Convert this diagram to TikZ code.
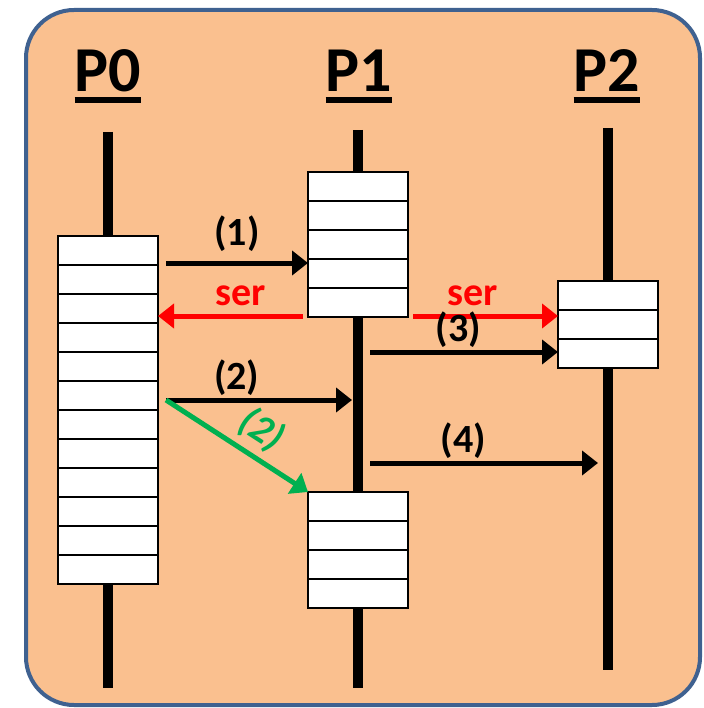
\documentclass[tikz,border=0pt]{standalone}
\usepackage{fontspec}
\setmainfont{Carlito}
\usetikzlibrary{arrows.meta}

\definecolor{bgorange}{HTML}{FAC08F}
\definecolor{frameblue}{HTML}{3F6190}
\definecolor{sendgreen}{HTML}{00B050}

\begin{document}
\begin{tikzpicture}[
  x=1pt, y=-1pt,
  title/.style={font=\fontsize{64}{64}\selectfont\bfseries, anchor=base, inner sep=0pt},
  life/.style={line width=9.5pt},
  stack/.style={draw, line width=2pt, fill=white, minimum width=100pt, inner sep=0pt, outer sep=0pt, anchor=north},
  msg/.style={line width=5pt, -{Triangle[length=16pt,width=24pt]}},
  lbl/.style={font=\fontsize{40}{40}\selectfont\bfseries, anchor=base, inner sep=0pt, yshift=11pt}
]
\useasboundingbox (0,0) rectangle (703,708);
\draw[frameblue, line width=4pt, fill=bgorange, rounded corners=48pt] (26,10) rectangle (700,705);

% process titles
\node[title] (t0) at (108,92) {P0};
\node[title] (t1) at (359,92) {P1};
\node[title] (t2) at (607,92) {P2};
\foreach \t in {t0,t1,t2}
  \draw[line width=5.5pt] ([yshift=-8pt]\t.base west) -- ([yshift=-8pt]\t.base east);

% life lines
\draw[life] (108,132) -- (108,688);
\draw[life] (358,130) -- (358,688);
\draw[life] (608,128) -- (608,670);

% message queues
\node[stack, minimum height=348pt] (s0) at (108,236) {};
\node[stack, minimum height=145pt] (s1a) at (358,172) {};
\node[stack, minimum height=116pt] (s1b) at (358,492) {};
\node[stack, minimum height=87pt] (s2) at (608,281) {};
\foreach \n/\k in {s0/11, s1a/4, s1b/3, s2/2}
  \foreach \i in {1,...,\k}
    \draw[line width=2pt] (\n.north west) ++(0,\i*29) -- ++(100,0);

% messages
\coordinate (a1) at (166,263);
\coordinate (r1) at (303,316);
\coordinate (r2) at (413,316);
\coordinate (a3) at (370,352);
\coordinate (a2) at (166,400);
\coordinate (e2) at (352,400);
\coordinate (a4) at (370,463);
\coordinate (e4) at (598,463);

\draw[msg] (a1) -- (s1a.west |- a1) node[lbl, midway, yshift=6pt] {(1)};
\draw[msg, red] (r1) -- (s0.east |- r1) node[lbl, pos=0.43, text=red] {ser};
\draw[msg, red] (r2) -- (s2.west |- r2) node[lbl, pos=0.41, text=red] {ser};
\draw[msg] (a3) -- (s2.west |- a3) node[lbl, pos=0.47] {(3)};
\draw[msg] (a2) -- (e2) node[lbl, pos=0.38] {(2)};
\draw[msg, sendgreen] (a2) -- (s1b.north west)
  node[lbl, sloped, pos=0.57, anchor=center, yshift=16pt, text=sendgreen, font=\fontsize{40}{40}\selectfont\bfseries\itshape] {(2)};
\draw[msg] (a4) -- (e4) node[lbl, pos=0.41] {(4)};
\end{tikzpicture}
\end{document}
